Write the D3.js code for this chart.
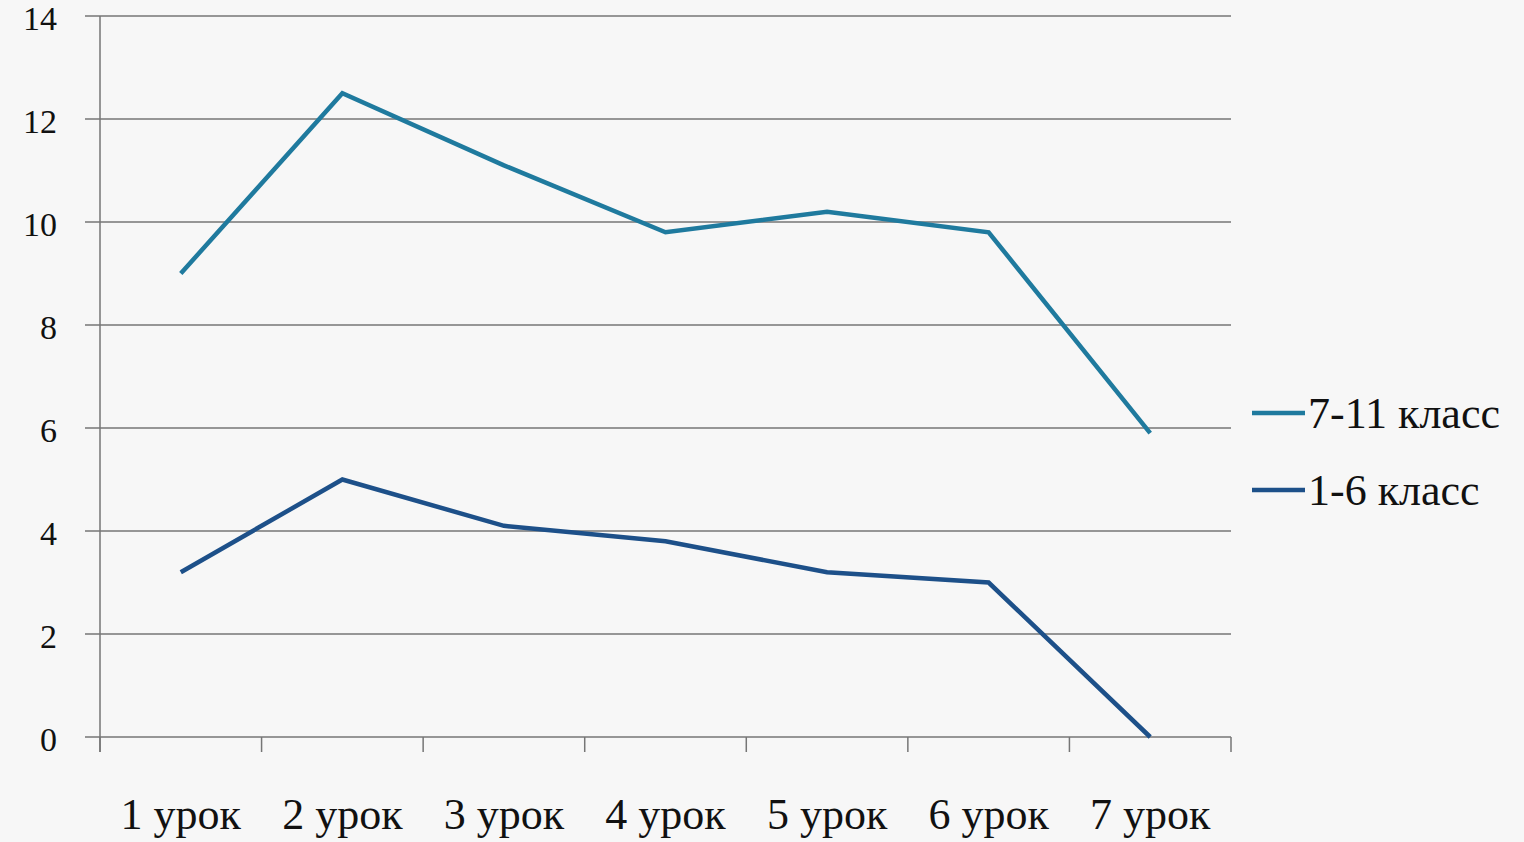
<!DOCTYPE html>
<html>
<head>
<meta charset="utf-8">
<script src="https://cdn.jsdelivr.net/npm/d3@7"></script>
<style>
  body { margin: 0; background: #f7f7f7; }
  text { font-family: "Liberation Serif", "DejaVu Serif", serif; fill: #111; }
</style>
</head>
<body>
<script>
var lessons = ["1 урок", "2 урок", "3 урок", "4 урок", "5 урок", "6 урок", "7 урок"];
var seniors = [9, 12.5, 11.1, 9.8, 10.2, 9.8, 5.9];   // 7-11 класс
var juniors = [3.2, 5, 4.1, 3.8, 3.2, 3.0, 0];       // 1-6 класс
var yTicks = [0, 2, 4, 6, 8, 10, 12, 14];

var series = [
  {name: "7-11 класс", values: seniors, color: "#1f7a9e"},
  {name: "1-6 класс", values: juniors, color: "#1d5089"}
];

var W = 1524, H = 842;
// plot bounds (note: "top" is a reserved window global, so use other names)
var plotL = 100, plotR = 1231, plotT = 16, plotB = 737;

var svg = d3.select("body")
      .append("svg")
      .attr("width", W)
      .attr("height", H)

var x = d3.scaleBand().domain(lessons).range([plotL, plotR]);
var y = d3.scaleLinear().domain([0, 14]).range([plotB, plotT]);

// horizontal gridlines with short tick to the left
svg.append("g")
  .selectAll("line")
  .data(yTicks)
  .enter().append("line")
  .attr("x1", plotL - 15)
  .attr("x2", plotR)
  .attr("y1", function(d){ return y(d) })
  .attr("y2", function(d){ return y(d) })
  .attr("stroke", "#767676")
  .attr("stroke-width", 1.5);

// y axis line
svg.append("line")
  .attr("x1", plotL).attr("x2", plotL)
  .attr("y1", plotT).attr("y2", plotB + 15)
  .attr("stroke", "#767676")
  .attr("stroke-width", 1.5);

// category separators below the axis
var bounds = lessons.map(function(d){ return x(d) }).concat([plotR]);
svg.append("g")
  .selectAll("line")
  .data(bounds)
  .enter().append("line")
  .attr("x1", function(d){ return d })
  .attr("x2", function(d){ return d })
  .attr("y1", plotB)
  .attr("y2", plotB + 15)
  .attr("stroke", "#767676")
  .attr("stroke-width", 1.5);

// y labels
svg.append("g")
  .selectAll("text")
  .data(yTicks)
  .enter().append("text")
  .attr("x", 57)
  .attr("y", function(d){ return y(d) })
  .attr("dy", "0.42em")
  .attr("text-anchor", "end")
  .attr("font-size", 34)
  .text(function(d){ return d });

// x labels
svg.append("g")
  .selectAll("text")
  .data(lessons)
  .enter().append("text")
  .attr("x", function(d){ return x(d) + x.bandwidth() / 2 })
  .attr("y", 829)
  .attr("text-anchor", "middle")
  .attr("font-size", 44)
  .text(function(d){ return d });

var line = d3.line()
  .x(function(d, i){ return x(lessons[i]) + x.bandwidth() / 2 })
  .y(function(d){ return y(d) });

svg.append("g")
  .selectAll("path")
  .data(series)
  .enter().append("path")
  .attr("d", function(s){ return line(s.values) })
  .attr("fill", "none")
  .attr("stroke", function(s){ return s.color })
  .attr("stroke-width", 4.5)
  .attr("stroke-linejoin", "miter");

// legend
var legend = svg.append("g")
  .selectAll("g")
  .data(series)
  .enter().append("g")
  .attr("transform", function(d, i){ return "translate(1252," + (413 + i * 77) + ")" });

legend.append("line")
  .attr("x1", 0).attr("x2", 53)
  .attr("stroke", function(d){ return d.color })
  .attr("stroke-width", 4.5);

legend.append("text")
  .attr("x", 56)
  .attr("dy", "0.35em")
  .attr("font-size", 44)
  .text(function(d){ return d.name });
</script>
</body>
</html>
